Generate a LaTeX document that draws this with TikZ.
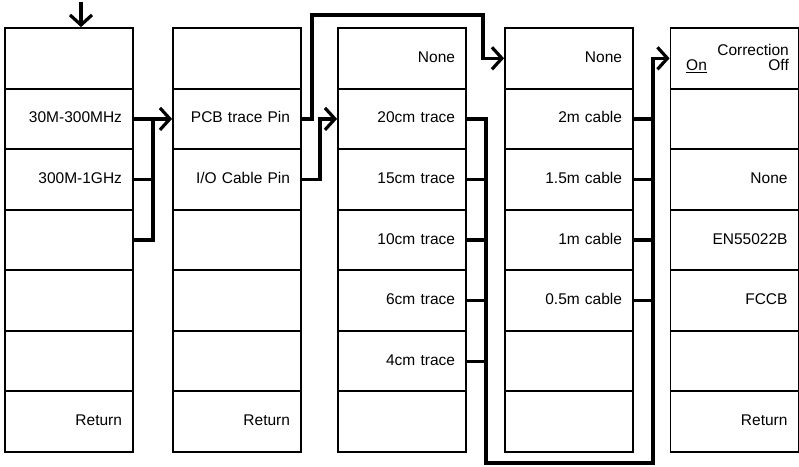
\documentclass[tikz,border=0pt]{standalone}
\usepackage{fontspec}
\setsansfont{Liberation Sans}
\usetikzlibrary{arrows.meta, positioning}
\tikzset{
  >=Stealth,
  flowarrow/.style={-{Straight Barb[length=10pt, width=22pt]}, line width=3.2pt, black},
  linkline/.style={line width=3.2pt, black}
}

\begin{document}
\begin{tikzpicture}[x=1pt, y=-1pt,
    menucell/.style={rectangle, draw=black, line width=1.8pt, minimum height=60.57pt, text width=106pt, inner xsep=11pt, inner ysep=0pt, align=right, font=\sffamily\fontsize{15.5}{18}\selectfont, text height=11pt, text depth=3pt},
    celltext/.style={inner sep=0pt, font=\sffamily\fontsize{15.5}{18}\selectfont, text height=11pt, text depth=3pt}
]
    \useasboundingbox (0, 0) rectangle (799, 466);

    % Column 1: frequency range
    \node[menucell] (c1r1) at (69, 58.3) {};
    \node[menucell] (c1r2) at (69, 118.9) {30M-300MHz};
    \node[menucell] (c1r3) at (69, 179.4) {300M-1GHz};
    \node[menucell] (c1r4) at (69, 240.0) {};
    \node[menucell] (c1r5) at (69, 300.6) {};
    \node[menucell] (c1r6) at (69, 361.1) {};
    \node[menucell] (c1r7) at (69, 421.7) {Return};

    % Column 2: pin type
    \node[menucell] (c2r1) at (237, 58.3) {};
    \node[menucell] (c2r2) at (237, 118.9) {PCB trace Pin};
    \node[menucell] (c2r3) at (237, 179.4) {I/O Cable Pin};
    \node[menucell] (c2r4) at (237, 240.0) {};
    \node[menucell] (c2r5) at (237, 300.6) {};
    \node[menucell] (c2r6) at (237, 361.1) {};
    \node[menucell] (c2r7) at (237, 421.7) {Return};

    % Column 3: trace length
    \node[menucell] (c3r1) at (402, 58.3) {None};
    \node[menucell] (c3r2) at (402, 118.9) {20cm trace};
    \node[menucell] (c3r3) at (402, 179.4) {15cm trace};
    \node[menucell] (c3r4) at (402, 240.0) {10cm trace};
    \node[menucell] (c3r5) at (402, 300.6) {6cm trace};
    \node[menucell] (c3r6) at (402, 361.1) {4cm trace};
    \node[menucell] (c3r7) at (402, 421.7) {};

    % Column 4: cable length
    \node[menucell] (c4r1) at (569, 58.3) {None};
    \node[menucell] (c4r2) at (569, 118.9) {2m cable};
    \node[menucell] (c4r3) at (569, 179.4) {1.5m cable};
    \node[menucell] (c4r4) at (569, 240.0) {1m cable};
    \node[menucell] (c4r5) at (569, 300.6) {0.5m cable};
    \node[menucell] (c4r6) at (569, 361.1) {};
    \node[menucell] (c4r7) at (569, 421.7) {};

    % Column 5: correction
    \node[menucell] (c5r1) at (734.5, 58.3) {};
    \node[menucell] (c5r2) at (734.5, 118.9) {};
    \node[menucell] (c5r3) at (734.5, 179.4) {None};
    \node[menucell] (c5r4) at (734.5, 240.0) {EN55022B};
    \node[menucell] (c5r5) at (734.5, 300.6) {FCCB};
    \node[menucell] (c5r6) at (734.5, 361.1) {};
    \node[menucell] (c5r7) at (734.5, 421.7) {Return};
    \node[celltext, anchor=east] (corr) at (789, 51) {Correction};
    \node[celltext, anchor=east] (off) at (789, 66.7) {Off};
    \node[celltext, anchor=west] (on) at (686, 66.7) {\underline{On}};

    % Junction points
    \coordinate (entry) at (81, 2);
    \coordinate (j1) at (153, 118.9);
    \coordinate (p1) at (312, 15);
    \coordinate (p2) at (483, 15);
    \coordinate (q1) at (320, 118.9);
    \coordinate (b3) at (486, 463);
    \coordinate (b4) at (653, 463);

    % Entry arrow
    \draw[flowarrow] (entry) -- (entry |- c1r1.north);

    % Column 1 -> 2
    \draw[linkline] (c1r3.east) -- (c1r3.east -| j1);
    \draw[linkline] (c1r4.east) -| (j1);
    \draw[flowarrow] (c1r2.east) -- (c2r2.west);

    % Column 2 -> 3 and 4
    \draw[flowarrow] (c2r2.east) -| (p1) -- (p2) |- (c4r1.west);
    \draw[flowarrow] (c2r3.east) -| (q1) -- (c3r2.west);

    % Column 3 and 4 -> 5
    \draw[flowarrow] (c3r2.east) -| (b3) -- (b4) |- (c5r1.west);
    \draw[linkline] (c3r3.east) -- (c3r3.east -| b3);
    \draw[linkline] (c3r4.east) -- (c3r4.east -| b3);
    \draw[linkline] (c3r5.east) -- (c3r5.east -| b3);
    \draw[linkline] (c3r6.east) -- (c3r6.east -| b3);
    \draw[linkline] (c4r2.east) -- (c4r2.east -| b4);
    \draw[linkline] (c4r3.east) -- (c4r3.east -| b4);
    \draw[linkline] (c4r4.east) -- (c4r4.east -| b4);
    \draw[linkline] (c4r5.east) -- (c4r5.east -| b4);
\end{tikzpicture}
\end{document}
